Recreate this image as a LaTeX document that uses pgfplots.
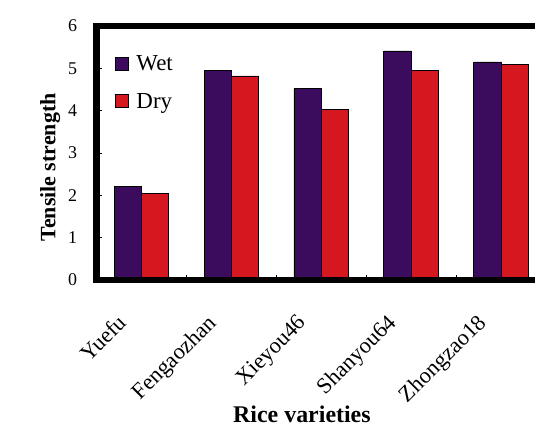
\documentclass[border=0pt]{standalone}
\usepackage{pgfplots}
\pgfplotsset{compat=1.18}
\usepackage{fontspec}
\setmainfont{Liberation Serif}
\definecolor{wetc}{HTML}{3B0B5E}
\definecolor{dryc}{HTML}{D5181F}
\begin{document}
\begin{tikzpicture}
\useasboundingbox (0bp,0bp) rectangle (535bp,426bp);
\clip (0bp,0bp) rectangle (535bp,426bp);
\begin{axis}[
  name=ax,
  at={(96.5bp,146bp)}, anchor=south west,
  scale only axis, width=449.5bp, height=254bp,
  xmin=-0.5, xmax=4.5, ymin=0, ymax=6,
  clip=false,
  ybar=0pt, bar width=0.304,
  axis line style={line width=6bp, black},
  /pgf/number format/assume math mode=true,
  ytick={0,1,2,3,4,5,6},
  yticklabel style={font=\fontsize{18}{20}\selectfont, xshift=-16bp},
  ytick pos=left, xtick pos=left,
  tick align=inside,
  major tick length=5bp,
  tick style={black, line width=1bp},
  xtick={0.5,1.5,2.5,3.5},
  xticklabels={},
  extra x ticks={0,1,2,3,4},
  extra x tick labels={Yuefu,Fengaozhan,Xieyou46,Shanyou64,Zhongzao18},
  extra x tick style={major tick length=0pt},
  xticklabel style={rotate=45, anchor=north east, font=\fontsize{22.5}{24}\selectfont, xshift=-37.5bp, yshift=-2.3bp},
  xlabel={\textbf{Rice varieties}},
  ylabel={\textbf{Tensile strength}},
  every axis x label/.style={at={(rel axis cs:0.457,-0.528)}, anchor=center, font=\fontsize{24}{26}\selectfont},
  every axis y label/.style={at={(rel axis cs:-0.103,0.443)}, anchor=center, rotate=90, font=\fontsize{22}{24}\selectfont},
  legend style={at={(rel axis cs:0.040,0.896)}, anchor=north west, draw=none, fill=none,
    font=\fontsize{23}{25}\selectfont, row sep=15bp, inner sep=0pt,
    nodes={inner sep=3bp},
    /tikz/every odd column/.append style={column sep=5bp}},
  legend cell align=left,
  legend image code/.code={\draw[#1, draw=black, line width=0.8bp] (0bp,-6.5bp) rectangle (13bp,6.5bp);},
]
\addplot[fill=wetc, draw=black, line width=0.8bp] coordinates {(0,2.22) (1,4.94) (2,4.52) (3,5.41) (4,5.15)};
\addplot[fill=dryc, draw=black, line width=0.8bp] coordinates {(0,2.05) (1,4.82) (2,4.03) (3,4.96) (4,5.10)};
\legend{Wet,Dry}
\end{axis}
\draw[line width=6bp, black] (ax.south west) rectangle (ax.north east);
\end{tikzpicture}
\end{document}
